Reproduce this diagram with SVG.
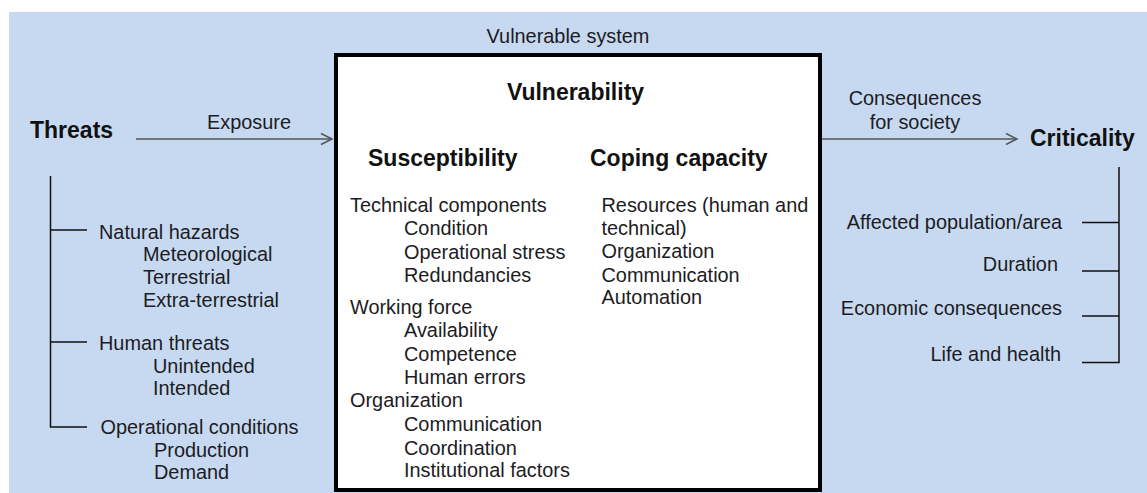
<svg xmlns="http://www.w3.org/2000/svg" width="1147" height="493" viewBox="0 0 1147 493">
  <style>
    .t { font-family: "Liberation Sans", Arial, sans-serif; font-size: 19.9px; fill: #1c1c24; }
    .b { font-family: "Liberation Sans", Arial, sans-serif; font-size: 23px; font-weight: bold; fill: #111; }
    .tree { stroke: #111; stroke-width: 1.5; fill: none; }
    .conn { stroke: #555; stroke-width: 1.5; fill: none; }
  </style>
  <defs>
    <marker id="chev" markerUnits="userSpaceOnUse" markerWidth="14" markerHeight="14" viewBox="0 0 14 14" refX="12" refY="7" orient="auto">
      <path d="M1,1.5 L12,7 L1,12.5" fill="none" stroke="#555" stroke-width="1.5"/>
    </marker>
  </defs>
  <rect x="9" y="12" width="1138" height="481" fill="#C6D9F0"/>

  <g id="connectors">
    <line class="conn" x1="136" y1="139" x2="332" y2="139" marker-end="url(#chev)"/>
    <line class="conn" x1="822" y1="139" x2="1017" y2="139" marker-end="url(#chev)"/>
    <polyline class="conn" stroke="#333" points="442,139 577,114 680,139"/>
    <path class="tree" d="M50.5,176 V427 H87 M50.5,230 H87 M50.5,342 H87"/>
    <path class="tree" stroke="#333" d="M1119,167 V362.5 H1082 M1119,222.5 H1082 M1119,271 H1082 M1119,316 H1082"/>
  </g>

  <g id="exposure-label">
    <text class="t" x="207" y="129">Exposure</text>
  </g>
  <g id="consequences-label">
    <text class="t" x="915" y="105" text-anchor="middle">Consequences</text>
    <text class="t" x="915" y="128.5" text-anchor="middle">for society</text>
  </g>

  <g id="threats">
    <text class="b" x="30" y="138">Threats</text>
    <text class="t" x="99" y="238.5">Natural hazards</text>
    <text class="t" x="143" y="261">Meteorological</text>
    <text class="t" x="143" y="283.5">Terrestrial</text>
    <text class="t" x="143" y="306.5">Extra-terrestrial</text>
    <text class="t" x="99" y="349.5">Human threats</text>
    <text class="t" x="153" y="372.5">Unintended</text>
    <text class="t" x="153" y="395">Intended</text>
    <text class="t" x="100.5" y="433.5">Operational conditions</text>
    <text class="t" x="154" y="457">Production</text>
    <text class="t" x="154" y="479">Demand</text>
  </g>

  <g id="vulnerable-system">
    <text class="t" x="568" y="43" text-anchor="middle">Vulnerable system</text>
    <rect x="336" y="55" width="484" height="435" fill="#fff" stroke="#000" stroke-width="4"/>
    <text class="b" x="575.5" y="100" text-anchor="middle">Vulnerability</text>
  </g>

  <g id="susceptibility">
    <text class="b" x="368" y="166">Susceptibility</text>
    <text class="t" x="350" y="212">Technical components</text>
    <text class="t" x="404" y="235">Condition</text>
    <text class="t" x="404" y="258.5">Operational stress</text>
    <text class="t" x="404" y="281.5">Redundancies</text>
    <text class="t" x="350" y="313.5">Working force</text>
    <text class="t" x="404" y="336.5">Availability</text>
    <text class="t" x="404" y="360.5">Competence</text>
    <text class="t" x="404" y="383.5">Human errors</text>
    <text class="t" x="350" y="407">Organization</text>
    <text class="t" x="404" y="430.5">Communication</text>
    <text class="t" x="404" y="455">Coordination</text>
    <text class="t" x="404" y="477">Institutional factors</text>
  </g>

  <g id="coping-capacity">
    <text class="b" x="590" y="166">Coping capacity</text>
    <text class="t" x="601.5" y="212">Resources (human and</text>
    <text class="t" x="601.5" y="235">technical)</text>
    <text class="t" x="601.5" y="258">Organization</text>
    <text class="t" x="601.5" y="282">Communication</text>
    <text class="t" x="601.5" y="304">Automation</text>
  </g>

  <g id="criticality">
    <text class="b" x="1030" y="146">Criticality</text>
    <text class="t" x="1062" y="228.5" text-anchor="end">Affected population/area</text>
    <text class="t" x="1058" y="271" text-anchor="end">Duration</text>
    <text class="t" x="1062" y="315" text-anchor="end">Economic consequences</text>
    <text class="t" x="1061" y="361" text-anchor="end">Life and health</text>
  </g>
</svg>
